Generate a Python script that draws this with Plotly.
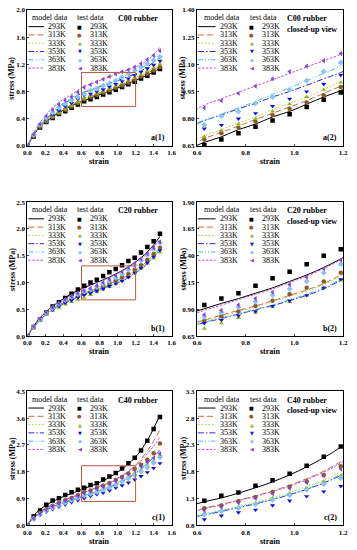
import plotly.graph_objects as go

strain = [0, 0.07, 0.14, 0.21, 0.28, 0.35, 0.42, 0.49, 0.56, 0.63, 0.70, 0.77,
          0.84, 0.91, 0.98, 1.05, 1.12, 1.19, 1.26, 1.33, 1.40, 1.47]
temps = ["293K", "313K", "333K", "353K", "363K", "383K"]

# ---------------- C00 rubber ----------------
c00_test = {
    "293K": [0, 0.14, 0.27, 0.35, 0.41, 0.47, 0.51, 0.56, 0.61, 0.655, 0.685, 0.72, 0.755, 0.79, 0.825, 0.865, 0.905, 0.945, 0.99, 1.03, 1.08, 1.13],
    "313K": [0, 0.15, 0.28, 0.36, 0.42, 0.48, 0.53, 0.58, 0.63, 0.685, 0.72, 0.75, 0.785, 0.82, 0.855, 0.89, 0.93, 0.975, 1.02, 1.06, 1.11, 1.16],
    "333K": [0, 0.15, 0.29, 0.37, 0.43, 0.49, 0.54, 0.59, 0.645, 0.70, 0.735, 0.77, 0.80, 0.84, 0.88, 0.92, 0.96, 1.00, 1.05, 1.10, 1.15, 1.20],
    "353K": [0, 0.16, 0.30, 0.39, 0.46, 0.52, 0.58, 0.63, 0.69, 0.745, 0.765, 0.80, 0.83, 0.87, 0.91, 0.95, 0.99, 1.04, 1.09, 1.14, 1.19, 1.25],
    "363K": [0, 0.16, 0.31, 0.41, 0.49, 0.56, 0.62, 0.67, 0.72, 0.765, 0.815, 0.84, 0.885, 0.92, 0.96, 1.01, 1.06, 1.11, 1.16, 1.21, 1.26, 1.31],
    "383K": [0, 0.17, 0.32, 0.44, 0.53, 0.61, 0.67, 0.72, 0.79, 0.86, 0.90, 0.94, 0.98, 1.02, 1.06, 1.09, 1.12, 1.16, 1.21, 1.27, 1.33, 1.40],
}
c00_model = {
    "293K": [0, 0.16, 0.28, 0.36, 0.43, 0.49, 0.54, 0.59, 0.63, 0.67, 0.70, 0.74, 0.77, 0.81, 0.84, 0.88, 0.92, 0.955, 1.00, 1.04, 1.09, 1.14],
    "313K": [0, 0.16, 0.29, 0.37, 0.44, 0.50, 0.55, 0.60, 0.645, 0.69, 0.725, 0.76, 0.795, 0.83, 0.865, 0.90, 0.94, 0.98, 1.02, 1.07, 1.12, 1.17],
    "333K": [0, 0.16, 0.29, 0.38, 0.45, 0.51, 0.56, 0.61, 0.66, 0.705, 0.74, 0.775, 0.81, 0.85, 0.885, 0.92, 0.96, 1.005, 1.05, 1.10, 1.15, 1.21],
    "353K": [0, 0.17, 0.30, 0.40, 0.48, 0.56, 0.63, 0.69, 0.745, 0.79, 0.82, 0.855, 0.885, 0.92, 0.95, 0.985, 1.02, 1.055, 1.10, 1.16, 1.23, 1.31],
    "363K": [0, 0.17, 0.31, 0.41, 0.50, 0.58, 0.65, 0.71, 0.76, 0.79, 0.825, 0.86, 0.895, 0.935, 0.97, 1.01, 1.05, 1.09, 1.14, 1.21, 1.29, 1.38],
    "383K": [0, 0.19, 0.34, 0.46, 0.56, 0.64, 0.70, 0.76, 0.82, 0.875, 0.91, 0.945, 0.98, 1.015, 1.05, 1.085, 1.12, 1.155, 1.20, 1.26, 1.34, 1.45],
}

# ---------------- C20 rubber ----------------
c20_test = {
    "293K": [0, 0.17, 0.31, 0.44, 0.55, 0.63, 0.71, 0.79, 0.87, 0.94, 1.00, 1.05, 1.12, 1.19, 1.25, 1.32, 1.40, 1.46, 1.56, 1.66, 1.77, 1.91],
    "313K": [0, 0.17, 0.30, 0.42, 0.51, 0.58, 0.65, 0.70, 0.75, 0.79, 0.835, 0.88, 0.93, 0.98, 1.04, 1.10, 1.16, 1.24, 1.32, 1.42, 1.53, 1.65],
    "333K": [0, 0.16, 0.29, 0.40, 0.47, 0.53, 0.59, 0.64, 0.68, 0.72, 0.77, 0.82, 0.87, 0.92, 0.97, 1.03, 1.10, 1.17, 1.26, 1.35, 1.45, 1.56],
    "353K": [0, 0.17, 0.30, 0.41, 0.49, 0.56, 0.62, 0.67, 0.72, 0.77, 0.80, 0.84, 0.88, 0.93, 0.98, 1.03, 1.10, 1.18, 1.27, 1.37, 1.48, 1.60],
    "363K": [0, 0.18, 0.31, 0.43, 0.52, 0.60, 0.67, 0.73, 0.78, 0.83, 0.87, 0.92, 0.97, 1.03, 1.09, 1.16, 1.24, 1.32, 1.41, 1.51, 1.62, 1.74],
    "383K": [0, 0.18, 0.32, 0.44, 0.53, 0.61, 0.68, 0.74, 0.80, 0.85, 0.89, 0.94, 1.00, 1.06, 1.13, 1.20, 1.28, 1.36, 1.44, 1.54, 1.65, 1.76],
}
c20_model = {
    "293K": [0, 0.19, 0.34, 0.46, 0.56, 0.64, 0.72, 0.79, 0.855, 0.905, 0.955, 1.00, 1.05, 1.10, 1.16, 1.22, 1.29, 1.37, 1.46, 1.57, 1.70, 1.86],
    "313K": [0, 0.17, 0.31, 0.42, 0.51, 0.58, 0.64, 0.70, 0.755, 0.80, 0.845, 0.89, 0.93, 0.98, 1.03, 1.08, 1.14, 1.22, 1.30, 1.40, 1.52, 1.66],
    "333K": [0, 0.17, 0.30, 0.41, 0.50, 0.57, 0.63, 0.69, 0.745, 0.79, 0.835, 0.88, 0.92, 0.97, 1.02, 1.07, 1.13, 1.21, 1.29, 1.39, 1.50, 1.64],
    "353K": [0, 0.17, 0.30, 0.41, 0.49, 0.56, 0.62, 0.68, 0.73, 0.775, 0.815, 0.855, 0.895, 0.935, 0.98, 1.03, 1.09, 1.17, 1.25, 1.35, 1.47, 1.61],
    "363K": [0, 0.17, 0.30, 0.41, 0.49, 0.56, 0.62, 0.68, 0.73, 0.78, 0.82, 0.86, 0.90, 0.94, 0.99, 1.04, 1.10, 1.18, 1.26, 1.36, 1.48, 1.62],
    "383K": [0, 0.18, 0.33, 0.45, 0.55, 0.63, 0.70, 0.77, 0.835, 0.89, 0.94, 0.99, 1.04, 1.09, 1.15, 1.21, 1.28, 1.36, 1.44, 1.54, 1.66, 1.80],
}

# ---------------- C40 rubber ----------------
c40_test = {
    "293K": [0, 0.30, 0.50, 0.69, 0.83, 0.91, 1.02, 1.11, 1.19, 1.26, 1.35, 1.41, 1.54, 1.64, 1.76, 1.91, 2.08, 2.27, 2.51, 2.84, 3.23, 3.64],
    "313K": [0, 0.25, 0.42, 0.55, 0.66, 0.75, 0.84, 0.92, 1.01, 1.12, 1.17, 1.25, 1.33, 1.42, 1.52, 1.62, 1.74, 1.90, 2.03, 2.20, 2.42, 2.75],
    "333K": [0, 0.23, 0.38, 0.50, 0.60, 0.69, 0.77, 0.85, 0.93, 1.02, 1.08, 1.14, 1.21, 1.31, 1.40, 1.50, 1.62, 1.73, 1.86, 2.00, 2.16, 2.35],
    "353K": [0, 0.20, 0.34, 0.45, 0.54, 0.62, 0.70, 0.77, 0.84, 0.91, 0.98, 1.04, 1.09, 1.17, 1.26, 1.34, 1.43, 1.53, 1.65, 1.78, 1.92, 2.08],
    "363K": [0, 0.22, 0.37, 0.49, 0.59, 0.68, 0.76, 0.84, 0.92, 1.00, 1.06, 1.12, 1.19, 1.27, 1.36, 1.46, 1.57, 1.68, 1.80, 1.94, 2.10, 2.28],
    "383K": [0, 0.23, 0.39, 0.52, 0.63, 0.72, 0.81, 0.89, 0.98, 1.08, 1.14, 1.22, 1.30, 1.39, 1.49, 1.60, 1.72, 1.85, 1.98, 2.12, 2.26, 2.40],
}
c40_model = {
    "293K": [0, 0.33, 0.53, 0.68, 0.80, 0.90, 0.99, 1.07, 1.15, 1.24, 1.31, 1.40, 1.50, 1.61, 1.74, 1.89, 2.06, 2.26, 2.52, 2.85, 3.25, 3.70],
    "313K": [0, 0.28, 0.45, 0.58, 0.69, 0.78, 0.86, 0.94, 1.02, 1.12, 1.19, 1.27, 1.35, 1.44, 1.55, 1.67, 1.81, 1.99, 2.22, 2.50, 2.83, 3.22],
    "333K": [0, 0.26, 0.42, 0.54, 0.64, 0.72, 0.80, 0.87, 0.94, 1.02, 1.08, 1.15, 1.23, 1.31, 1.41, 1.52, 1.64, 1.80, 1.98, 2.20, 2.45, 2.74],
    "353K": [0, 0.25, 0.40, 0.52, 0.62, 0.70, 0.78, 0.85, 0.92, 0.99, 1.06, 1.13, 1.20, 1.28, 1.37, 1.47, 1.59, 1.73, 1.89, 2.08, 2.29, 2.52],
    "363K": [0, 0.25, 0.41, 0.53, 0.63, 0.71, 0.79, 0.86, 0.93, 1.00, 1.07, 1.14, 1.21, 1.29, 1.38, 1.48, 1.60, 1.75, 1.91, 2.10, 2.31, 2.55],
    "383K": [0, 0.28, 0.45, 0.58, 0.69, 0.78, 0.86, 0.94, 1.02, 1.11, 1.18, 1.26, 1.34, 1.43, 1.53, 1.65, 1.79, 1.96, 2.16, 2.40, 2.66, 2.96],
}

panels = [
    dict(test=c00_test, model=c00_model, title="C00 rubber", label="a(1)", xr=[0, 1.6], yr=[0, 2.0],
         yt=[0.0, 0.4, 0.8, 1.2, 1.6, 2.0], yfmt=".1f", box=[0.6, 1.2, 0.58, 1.08]),
    dict(test=c00_test, model=c00_model, title="C00 rubber", label="a(2)", xr=[0.6, 1.2], yr=[0.65, 1.40],
         yt=[0.65, 0.80, 0.95, 1.10, 1.25, 1.40], yfmt=".2f", box=None),
    dict(test=c20_test, model=c20_model, title="C20 rubber", label="b(1)", xr=[0, 1.6], yr=[0, 2.5],
         yt=[0.0, 0.5, 1.0, 1.5, 2.0, 2.5], yfmt=".1f", box=[0.6, 1.2, 0.675, 1.31]),
    dict(test=c20_test, model=c20_model, title="C20 rubber", label="b(2)", xr=[0.6, 1.2], yr=[0.65, 1.90],
         yt=[0.65, 0.90, 1.15, 1.40, 1.65, 1.90], yfmt=".2f", box=None),
    dict(test=c40_test, model=c40_model, title="C40 rubber", label="c(1)", xr=[0, 1.6], yr=[0, 4.5],
         yt=[0.0, 0.9, 1.8, 2.7, 3.6, 4.5], yfmt=".1f", box=[0.6, 1.2, 0.80, 2.0]),
    dict(test=c40_test, model=c40_model, title="C40 rubber", label="c(2)", xr=[0.6, 1.2], yr=[0.8, 3.3],
         yt=[0.8, 1.3, 1.8, 2.3, 2.8, 3.3], yfmt=".1f", box=None),
]

line_colors = {"293K": "#000000", "313K": "#c8703a", "333K": "#b5cf3a", "353K": "#2a2ad0",
               "363K": "#3fc2e6", "383K": "#b452e6"}
marker_colors = {"293K": "#000000", "313K": "#8a5a2a", "333K": "#8fb81f", "353K": "#1010d8",
                 "363K": "#86c4f4", "383K": "#8a3fd0"}
dashes = {"293K": "solid", "313K": "6px,3px", "333K": "1.5px,2px", "353K": "6px,2px,1.5px,2px",
          "363K": "5px,2px,1px,2px,1px,2px", "383K": "2.5px,1.5px"}
symbols = {"293K": "square", "313K": "circle", "333K": "triangle-up", "353K": "triangle-down",
           "363K": "diamond", "383K": "triangle-left"}
uni = {"293K": "■", "313K": "●", "333K": "▲", "353K": "▼", "363K": "◆", "383K": "◀"}

W, H = 357, 550
xdom_px = [(24, 172), (198, 348)]
ydom_px = [(6, 144), (201, 337), (393, 529)]
strain_y = [159.5, 352.5, 545]
leg_px = [dict(model=3, l0=1, l1=17, lab=19, test=49, mk=53.5, lab2=62, title=91),
          dict(model=5, l0=1, l1=19, lab=22, test=52, mk=56, lab2=65, title=90)]

fig = go.Figure()
FONT = "Liberation Serif"
BLACK = "#000000"
annotations = []
shapes = []

for i, p in enumerate(panels):
    row, col = i // 2, i % 2
    ax = "" if i == 0 else str(i + 1)
    xa, ya = "x" + ax, "y" + ax
    x0, x1 = xdom_px[col]
    y0, y1 = ydom_px[row]
    pw, ph = x1 - x0, y1 - y0
    L = leg_px[col]
    fig.layout["xaxis" + ax] = dict(
        domain=[x0 / W, x1 / W], anchor=ya, range=p["xr"], showgrid=False, zeroline=False,
        showline=True, linecolor="black", linewidth=1, mirror=True, ticks="inside", ticklen=2,
        tickwidth=1, dtick=0.2, tickformat=".1f",
        tickfont=dict(family=FONT, size=7, color=BLACK, weight="bold"))
    fig.layout["yaxis" + ax] = dict(
        domain=[1 - y1 / H, 1 - y0 / H], anchor=xa, range=p["yr"], showgrid=False, zeroline=False,
        showline=True, linecolor="black", linewidth=1, mirror=True, ticks="inside", ticklen=2,
        tickwidth=1, tickvals=p["yt"], tickformat=p["yfmt"],
        tickfont=dict(family=FONT, size=7, color=BLACK, weight="bold"))
    for t in temps:
        fig.add_trace(go.Scatter(
            x=strain, y=p["model"][t], mode="lines", xaxis=xa, yaxis=ya, showlegend=False,
            line=dict(color=line_colors[t], width=1, dash=dashes[t], shape="spline"),
            cliponaxis=True, hoverinfo="skip"))
    for t in temps:
        fig.add_trace(go.Scatter(
            x=strain, y=p["test"][t], mode="markers", xaxis=xa, yaxis=ya, showlegend=False,
            marker=dict(color=marker_colors[t], size=4.5, symbol=symbols[t], line=dict(width=0)),
            cliponaxis=True, hoverinfo="skip"))
    if p["box"]:
        bx0, bx1, by0, by1 = p["box"]
        shapes.append(dict(type="rect", xref=xa, yref=ya, x0=bx0, x1=bx1, y0=by0, y1=by1,
                           line=dict(color="#b5603f", width=1)))
    xd, yd = xa + " domain", ya + " domain"
    hy = 1 - 8 / ph
    for txt, lx in (("model data", L["model"]), ("test data", L["test"])):
        annotations.append(dict(text=txt, xref=xd, yref=yd, x=lx / pw, y=hy, xanchor="left",
                                yanchor="middle", showarrow=False,
                                font=dict(family=FONT, size=8, color=BLACK)))
    for k, t in enumerate(temps):
        ry = 1 - (17 + 8.4 * k) / ph
        shapes.append(dict(type="line", xref=xd, yref=yd, x0=L["l0"] / pw, x1=L["l1"] / pw,
                           y0=ry, y1=ry, line=dict(color=line_colors[t], width=1, dash=dashes[t])))
        annotations.append(dict(text=t, xref=xd, yref=yd, x=L["lab"] / pw, y=ry,
                                xanchor="left", yanchor="middle", showarrow=False,
                                font=dict(family=FONT, size=8, color=BLACK)))
        annotations.append(dict(text=uni[t], xref=xd, yref=yd, x=L["mk"] / pw, y=ry,
                                xanchor="center", yanchor="middle", showarrow=False,
                                font=dict(family="DejaVu Sans", size=5, color=marker_colors[t])))
        annotations.append(dict(text=t, xref=xd, yref=yd, x=L["lab2"] / pw, y=ry,
                                xanchor="left", yanchor="middle", showarrow=False,
                                font=dict(family=FONT, size=8, color=BLACK)))
    annotations.append(dict(text="<b>" + p["title"] + "</b>", xref=xd, yref=yd, x=L["title"] / pw,
                            y=1 - 9 / ph, xanchor="left", yanchor="middle", showarrow=False,
                            font=dict(family=FONT, size=8, color=BLACK)))
    if col == 1:
        annotations.append(dict(text="<b>closed-up view</b>", xref=xd, yref=yd, x=L["title"] / pw,
                                y=1 - 19.5 / ph, xanchor="left", yanchor="middle", showarrow=False,
                                font=dict(family=FONT, size=8, color=BLACK)))
    annotations.append(dict(text="<b>" + p["label"] + "</b>", xref=xd, yref=yd, x=0.97, y=0.06,
                            xanchor="right", yanchor="middle", showarrow=False,
                            font=dict(family=FONT, size=8, color=BLACK)))
    annotations.append(dict(text="<b>strain</b>", xref="paper", yref="paper", x=(x0 + x1) / 2 / W,
                            y=1 - strain_y[row] / H, xanchor="center", yanchor="middle", showarrow=False,
                            font=dict(family=FONT, size=8, color=BLACK)))
    sx = 8 if col == 0 else 184
    annotations.append(dict(text="<b>stress (MPa)</b>", xref="paper", yref="paper", x=sx / W,
                            y=1 - (y0 + y1) / 2 / H, xanchor="center", yanchor="middle", showarrow=False,
                            textangle=-90, font=dict(family=FONT, size=8, color=BLACK)))

fig.update_layout(width=W, height=H, margin=dict(l=0, r=0, t=0, b=0), plot_bgcolor="white",
                  paper_bgcolor="white", annotations=annotations, shapes=shapes, showlegend=False,
                  hovermode=False)
fig.write_html("out.html", config={"displayModeBar": False, "staticPlot": True},
               post_script="document.body.style.margin='0';document.body.style.padding='0';")
